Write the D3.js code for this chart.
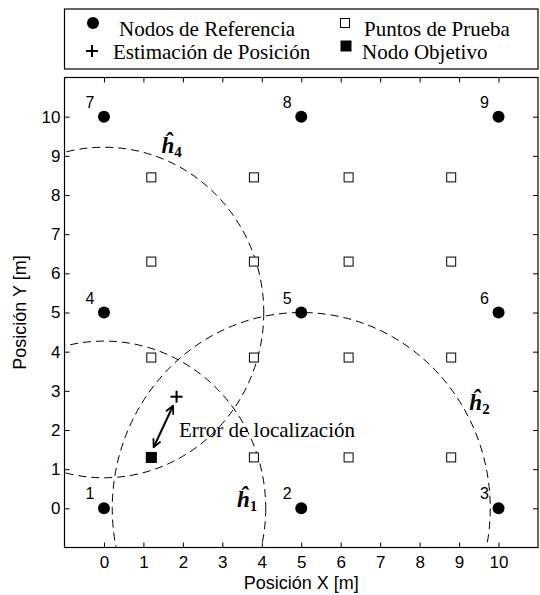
<!DOCTYPE html>
<html>
<head>
<meta charset="utf-8">
<script src="https://cdn.jsdelivr.net/npm/d3@7/dist/d3.min.js"></script>
<style>
body { margin: 0; background: #fff; }
</style>
</head>
<body>
<svg id="chart" width="540" height="595"></svg>
<script>
// reference nodes, numbered 1..9
const node_ids = [1, 2, 3, 4, 5, 6, 7, 8, 9];
const node_x = [0, 5, 10, 0, 5, 10, 0, 5, 10];
const node_y = [0, 0, 0, 5, 5, 5, 10, 10, 10];

// grid of test points
const test_x = [1.2, 3.8, 6.2, 8.8];
const test_y = [1.3, 3.85, 6.3, 8.45];

// target node, position estimate and the error arrow between them
const target_xy = [1.2, 1.3];
const estimate_xy = [1.84, 2.85];
const arrow_from = [1.26, 1.56];
const arrow_to = [1.75, 2.62];
const error_label = "Error de localización";
const error_label_xy = [1.9, 1.83];

// estimated distance circles (centred on nodes 1, 2 and 4)
const circle_names = ["1", "2", "4"];
const circle_cx = [0, 5, 0];
const circle_cy = [0, 0, 5];
const circle_rx = [4.1, 4.79, 4.05];
const circle_ry = [4.27, 5.0, 4.22];
const circle_label_xy = [[3.37, 0.03], [9.26, 2.51], [1.46, 9.07]];

const ticks = [0, 1, 2, 3, 4, 5, 6, 7, 8, 9, 10];
const legend_labels = ["Nodos de Referencia", "Puntos de Prueba", "Estimación de Posición", "Nodo Objetivo"];

const serif = "'Liberation Serif', 'Times New Roman', serif";
const sans = "'Liberation Sans', Arial, sans-serif";

let svg = d3.select("#chart");

let x = d3.scaleLinear().domain([-1, 11]).range([64.5, 538]);
let y = d3.scaleLinear().domain([-1, 11]).range([547.5, 77.5]);

let defs = svg.append("defs");
defs.append("clipPath").attr("id", "plot-clip")
	.append("rect")
	.attr("x", x(-1)).attr("y", y(11))
	.attr("width", x(11) - x(-1)).attr("height", y(-1) - y(11));

defs.append("marker")
	.attr("id", "arrow-head")
	.attr("markerUnits", "userSpaceOnUse")
	.attr("viewBox", "0 0 10 10")
	.attr("refX", 9).attr("refY", 5)
	.attr("markerWidth", 10).attr("markerHeight", 10)
	.attr("orient", "auto-start-reverse")
	.append("path")
	.attr("d", "M1,1 L9,5 L1,9")
	.attr("fill", "none")
	.attr("stroke", "black")
	.attr("stroke-width", 1.8);

// ---- axes (ticks point inward on all four sides)
function style_axis(g) {
	g.select(".domain").remove();
	g.selectAll("line").attr("stroke", "black");
	g.selectAll("text").attr("font-family", sans).attr("font-size", 17).attr("fill", "black");
}

svg.append("g")
	.attr("transform", `translate(0,${y(-1)})`)
	.call(d3.axisBottom(x).tickValues(ticks).tickSizeInner(-5).tickSizeOuter(0).tickPadding(8))
	.call(style_axis);

svg.append("g")
	.attr("transform", `translate(0,${y(11)})`)
	.call(d3.axisTop(x).tickValues(ticks).tickSizeInner(-5).tickSizeOuter(0).tickFormat(""))
	.call(style_axis);

svg.append("g")
	.attr("transform", `translate(${x(-1)},0)`)
	.call(d3.axisLeft(y).tickValues(ticks).tickSizeInner(-5).tickSizeOuter(0).tickPadding(4))
	.call(style_axis);

svg.append("g")
	.attr("transform", `translate(${x(11)},0)`)
	.call(d3.axisRight(y).tickValues(ticks).tickSizeInner(-5).tickSizeOuter(0).tickFormat(""))
	.call(style_axis);

svg.append("rect")
	.attr("x", x(-1)).attr("y", y(11))
	.attr("width", x(11) - x(-1)).attr("height", y(-1) - y(11))
	.attr("fill", "none").attr("stroke", "black").attr("stroke-width", 1.2);

svg.append("text")
	.attr("x", (x(-1) + x(11)) / 2).attr("y", 589)
	.attr("text-anchor", "middle")
	.attr("font-family", sans).attr("font-size", 18)
	.text("Posición X [m]");

svg.append("text")
	.attr("transform", `translate(26,${(y(-1) + y(11)) / 2}) rotate(-90)`)
	.attr("text-anchor", "middle")
	.attr("font-family", sans).attr("font-size", 18)
	.text("Posición Y [m]");

// ---- dashed circles
let plot = svg.append("g").attr("clip-path", "url(#plot-clip)");

plot.selectAll("ellipse")
	.data(circle_names)
	.enter().append("ellipse")
	.attr("cx", (d, i) => x(circle_cx[i]))
	.attr("cy", (d, i) => y(circle_cy[i]))
	.attr("rx", (d, i) => x(circle_rx[i]) - x(0))
	.attr("ry", (d, i) => y(0) - y(circle_ry[i]))
	.attr("fill", "none")
	.attr("stroke", "black")
	.attr("stroke-width", 1)
	.attr("stroke-dasharray", "8,5");

let hat_labels = svg.selectAll(".hat")
	.data(circle_names)
	.enter().append("text")
	.attr("class", "hat")
	.attr("x", (d, i) => x(circle_label_xy[i][0]))
	.attr("y", (d, i) => y(circle_label_xy[i][1]))
	.attr("font-family", serif);
hat_labels.append("tspan")
	.attr("font-size", 23).attr("font-weight", "bold").attr("font-style", "italic")
	.text("ĥ");
hat_labels.append("tspan")
	.attr("font-size", 15).attr("font-weight", "bold").attr("dy", 4)
	.text(d => d);

// ---- test points
let test_points = [];
test_y.forEach(ty => test_x.forEach(tx => test_points.push([tx, ty])));

svg.selectAll(".test")
	.data(test_points)
	.enter().append("rect")
	.attr("class", "test")
	.attr("x", d => x(d[0]) - 4.5).attr("y", d => y(d[1]) - 4.5)
	.attr("width", 9).attr("height", 9)
	.attr("fill", "white").attr("stroke", "black").attr("stroke-width", 1);

// ---- reference nodes
svg.selectAll(".node")
	.data(node_ids)
	.enter().append("circle")
	.attr("class", "node")
	.attr("cx", (d, i) => x(node_x[i])).attr("cy", (d, i) => y(node_y[i]))
	.attr("r", 6)
	.attr("fill", "black");

svg.selectAll(".node-label")
	.data(node_ids)
	.enter().append("text")
	.attr("class", "node-label")
	.attr("x", (d, i) => x(node_x[i]) - 14).attr("y", (d, i) => y(node_y[i]) - 9)
	.attr("text-anchor", "middle")
	.attr("font-family", sans).attr("font-size", 16)
	.text(d => d);

// ---- target, estimate and error arrow
svg.append("rect")
	.attr("x", x(target_xy[0]) - 5.5).attr("y", y(target_xy[1]) - 5.5)
	.attr("width", 11).attr("height", 11)
	.attr("fill", "black");

svg.append("path")
	.attr("d", d3.symbol(d3.symbolCross, 0)())
	.attr("transform", `translate(${x(estimate_xy[0])},${y(estimate_xy[1])})`);
svg.append("g")
	.attr("transform", `translate(${x(estimate_xy[0])},${y(estimate_xy[1])})`)
	.selectAll("line")
	.data([[-6, 0, 6, 0], [0, -6, 0, 6]])
	.enter().append("line")
	.attr("x1", d => d[0]).attr("y1", d => d[1])
	.attr("x2", d => d[2]).attr("y2", d => d[3])
	.attr("stroke", "black").attr("stroke-width", 2);

svg.append("line")
	.attr("x1", x(arrow_from[0])).attr("y1", y(arrow_from[1]))
	.attr("x2", x(arrow_to[0])).attr("y2", y(arrow_to[1]))
	.attr("stroke", "black").attr("stroke-width", 2)
	.attr("marker-start", "url(#arrow-head)")
	.attr("marker-end", "url(#arrow-head)");

svg.append("text")
	.attr("x", x(error_label_xy[0])).attr("y", y(error_label_xy[1]))
	.attr("font-family", serif).attr("font-size", 21)
	.text(error_label);

// ---- legend
let legend = svg.append("g");
legend.append("rect")
	.attr("x", 64.5).attr("y", 9)
	.attr("width", 473.5).attr("height", 60)
	.attr("fill", "white").attr("stroke", "black").attr("stroke-width", 1.2);

let legend_pos = [[119, 36], [364, 36], [113, 59], [362, 59]];
legend.selectAll("text")
	.data(legend_labels)
	.enter().append("text")
	.attr("x", (d, i) => legend_pos[i][0]).attr("y", (d, i) => legend_pos[i][1])
	.attr("font-family", serif).attr("font-size", 21)
	.text(d => d);

legend.append("circle").attr("cx", 93).attr("cy", 23).attr("r", 6).attr("fill", "black");
legend.append("rect").attr("x", 340.5).attr("y", 18.5).attr("width", 9).attr("height", 9)
	.attr("fill", "white").attr("stroke", "black");
legend.selectAll(".plus")
	.data([[-6, 0, 6, 0], [0, -6, 0, 6]])
	.enter().append("line")
	.attr("class", "plus")
	.attr("x1", d => 92 + d[0]).attr("y1", d => 51 + d[1])
	.attr("x2", d => 92 + d[2]).attr("y2", d => 51 + d[3])
	.attr("stroke", "black").attr("stroke-width", 2);
legend.append("rect").attr("x", 340.5).attr("y", 40.5).attr("width", 11).attr("height", 11)
	.attr("fill", "black");
</script>
</body>
</html>
